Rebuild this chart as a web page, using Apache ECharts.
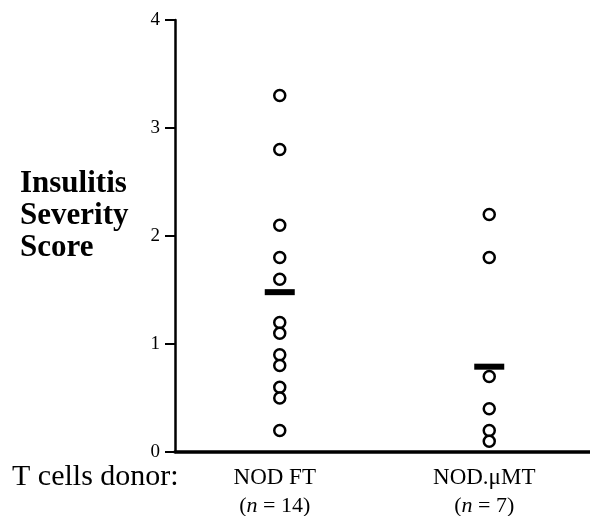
<!DOCTYPE html>
<html>
<head>
<meta charset="utf-8">
<script src="https://cdn.jsdelivr.net/npm/echarts@6/dist/echarts.min.js"></script>
<style>
html,body{margin:0;padding:0;background:#fff;}
#chart{width:590px;height:516px;}
</style>
</head>
<body>
<div id="chart"></div>
<script>
// Data
const categories = ['NOD FT', 'NOD.\u03bcMT'];
const groupN = [14, 7];
const ftScores = [3.3, 2.8, 2.1, 1.8, 1.6, 1.2, 1.1, 0.9, 0.8, 0.6, 0.5, 0.2];
const umtScores = [2.2, 1.8, 0.7, 0.4, 0.2, 0.1];
const means = [1.48, 0.79];
const yTicks = [0, 1, 2, 3, 4];

const pointData = [];
ftScores.forEach(v => pointData.push([categories[0], v]));
umtScores.forEach(v => pointData.push([categories[1], v]));
const meanData = categories.map((c, i) => [c, means[i]]);

const serif = '"Liberation Serif", "DejaVu Serif", serif';

const chart = echarts.init(document.getElementById('chart'));
chart.setOption({
  animation: false,
  backgroundColor: '#fff',
  grid: { left: 175, right: -4, top: 20, bottom: 64, containLabel: false, outerBoundsMode: 'none' },
  xAxis: {
    type: 'category',
    data: categories,
    boundaryGap: true,
    axisLine: { lineStyle: { color: '#000', width: 3.5 } },
    axisTick: { alignWithLabel: true, length: 8, lineStyle: { color: '#000', width: 2 } },
    axisLabel: {
      margin: 12,
      padding: [0, 10, 0, 0],
      formatter: function (val, idx) {
        return '{c|' + val + '}\n{p|(}{i|n}{p| = ' + groupN[idx] + ')}';
      },
      rich: {
        c: { fontFamily: serif, fontSize: 23, color: '#000', lineHeight: 28 },
        p: { fontFamily: serif, fontSize: 22, color: '#000', lineHeight: 28 },
        i: { fontFamily: serif, fontSize: 22, fontStyle: 'italic', color: '#000', lineHeight: 28 }
      }
    },
    splitLine: { show: false }
  },
  yAxis: {
    type: 'value',
    min: 0,
    max: 4,
    interval: 1,
    axisLine: { show: true, lineStyle: { color: '#000', width: 2.5 } },
    axisTick: { show: true, length: 10, lineStyle: { color: '#000', width: 2 } },
    axisLabel: {
      margin: 15,
      fontFamily: serif,
      fontSize: 19,
      color: '#000',
      formatter: function (v) { return yTicks.indexOf(v) >= 0 ? String(v) : ''; }
    },
    splitLine: { show: false }
  },
  series: [
    {
      type: 'scatter',
      data: pointData,
      symbol: 'circle',
      symbolSize: 11,
      itemStyle: { color: '#fff', borderColor: '#000', borderWidth: 2.5, opacity: 1 },
      z: 2
    },
    {
      type: 'scatter',
      data: meanData,
      symbol: 'rect',
      symbolSize: [30, 6],
      itemStyle: { color: '#000', opacity: 1 },
      z: 3
    }
  ],
  graphic: [
    {
      type: 'text',
      left: 20,
      top: 168,
      style: {
        text: 'Insulitis\nSeverity\nScore',
        font: 'bold 31px ' + serif,
        lineHeight: 32,
        fill: '#000'
      }
    },
    {
      type: 'text',
      left: 12,
      top: 462,
      style: {
        text: 'T cells donor:',
        font: '30px ' + serif,
        fill: '#000'
      }
    }
  ]
});
</script>
</body>
</html>
